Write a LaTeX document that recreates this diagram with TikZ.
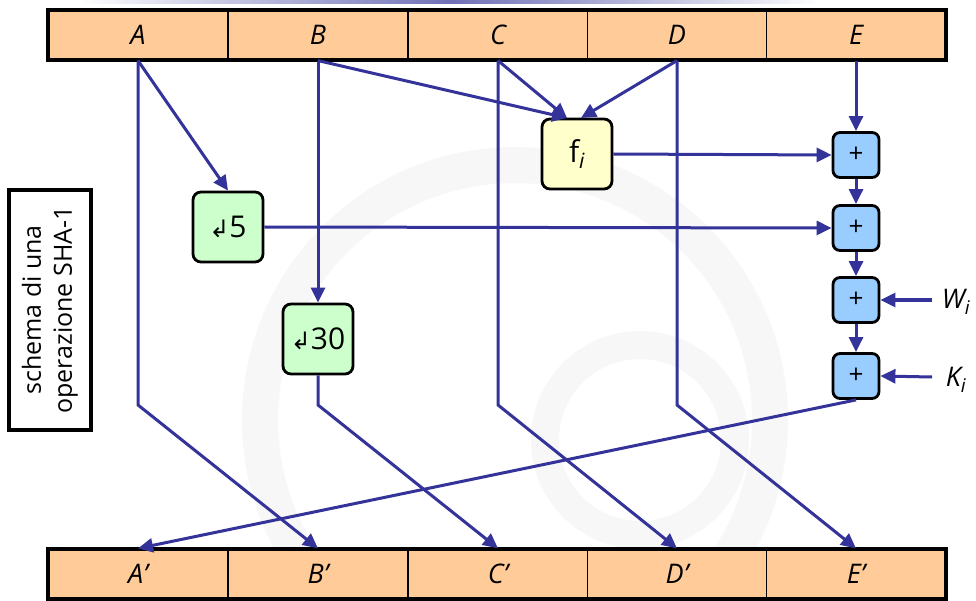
\documentclass[tikz,border=0pt]{standalone}
\usepackage{fontspec}
\setmainfont{Open Sans}
\newfontfamily\symfont{DejaVu Sans}
\usetikzlibrary{arrows.meta,calc}
\definecolor{cellc}{HTML}{FFCC99}
\definecolor{greenc}{HTML}{CCFFCC}
\definecolor{yellc}{HTML}{FFFFCC}
\definecolor{bluec}{HTML}{99CCFF}
\definecolor{arrc}{HTML}{333399}
\tikzset{
  cell/.style={draw=black,line width=1.2pt,fill=cellc,minimum width=179.6pt,minimum height=50pt,inner sep=0pt,font=\fontsize{27}{27}\selectfont\itshape},
  opbox/.style={draw=black,line width=2.8pt,rounded corners=8pt,minimum width=70pt,minimum height=70pt,inner sep=0pt,font=\fontsize{30}{30}\selectfont},
  plusbox/.style={draw=black,line width=2.8pt,rounded corners=7pt,fill=bluec,minimum width=46pt,minimum height=45pt,inner sep=0pt,font=\fontsize{26}{26}\selectfont},
  conn/.style={draw=arrc,line width=3pt,-{Triangle[length=15pt,width=14pt]}},
  lbl/.style={font=\fontsize{27}{27}\selectfont\itshape,inner sep=0pt},
  wm/.style={draw=gray!6,line width=36pt}
}
\begin{document}
\begin{tikzpicture}[x=1pt,y=-1pt]
\useasboundingbox (0,0) rectangle (976,601);
\fill[white] (0,0) rectangle (976,601);
% faint watermark
\draw[wm] (515,420) circle[radius=255];
\draw[wm,line width=28pt] (640,440) circle[radius=95];
\shade[left color=white,right color=white,middle color=arrc!70] (80,1) rectangle (820,4);
% top register
\foreach \n/\x in {A/138,B/318,C/498,D/677,E/856}{
  \node[cell] (\n) at (\x,35) {\n};
}
\draw[line width=4pt] (48,10) rectangle (946,60);
% bottom register
\foreach \n/\x in {A/138,B/318,C/498,D/677,E/856}{
  \node[cell] (\n2) at (\x,574) {\n’};
}
\draw[line width=4pt] (48,549) rectangle (946,599);
% operation boxes
\node[opbox,fill=greenc] (r5) at (228,227) {{\symfont\fontsize{24}{24}\selectfont ↲}5};
\node[opbox,fill=greenc] (r30) at (318,339) {{\symfont\fontsize{24}{24}\selectfont ↲}30};
\node[opbox,fill=yellc] (fi) at (577,154) {f\textsubscript{\itshape i}};
\node[plusbox] (p1) at (856,155) {+};
\node[plusbox] (p2) at (856,228) {+};
\node[plusbox] (p3) at (856,300) {+};
\node[plusbox] (p4) at (856,376) {+};
\node[lbl] (W) at (956,302) {W\textsubscript{i}};
\node[lbl] (K) at (956,380) {K\textsubscript{i}};
% side label
\node[draw=black,line width=4pt,fill=white,minimum width=240pt,minimum height=82pt,rotate=90,align=center,font=\fontsize{25}{31}\selectfont,inner sep=0pt] (lab) at (50,310) {schema di una\\operazione SHA-1};
% bend coordinates
\coordinate (a1) at (138,405);
\coordinate (b1) at (318,405);
\coordinate (c1) at (498,405);
\coordinate (d1) at (677,405);
\coordinate (fiB) at (567,118);
\coordinate (fiD) at (581,118);
\coordinate (Wt) at (932,300);
\coordinate (Kt) at (932,377);
% connectors
\draw[conn] (A.south) -- (r5.north);
\draw[conn] (A.south) -- (a1) -- (B2.north);
\draw[conn] (B.south) -- (r30.north);
\draw[conn] (B.south) -- (fiB);
\draw[conn] (C.south) -- (fiB);
\draw[conn] (C.south) -- (c1) -- (D2.north);
\draw[conn] (D.south) -- (fiD);
\draw[conn] (D.south) -- (d1) -- (E2.north);
\draw[conn] (E.south) -- (p1.north);
\draw[conn] (fi.east) -- (p1.west);
\draw[conn] (r5.east) -- (p2.west);
\draw[conn] (p1.south) -- (p2.north);
\draw[conn] (p2.south) -- (p3.north);
\draw[conn] (p3.south) -- (p4.north);
\draw[conn] (Wt) -- (p3.east);
\draw[conn] (Kt) -- (p4.east);
\draw[conn] (r30.south) -- (b1) -- (C2.north);
\draw[conn] (p4.south) -- (A2.north);
\end{tikzpicture}
\end{document}
